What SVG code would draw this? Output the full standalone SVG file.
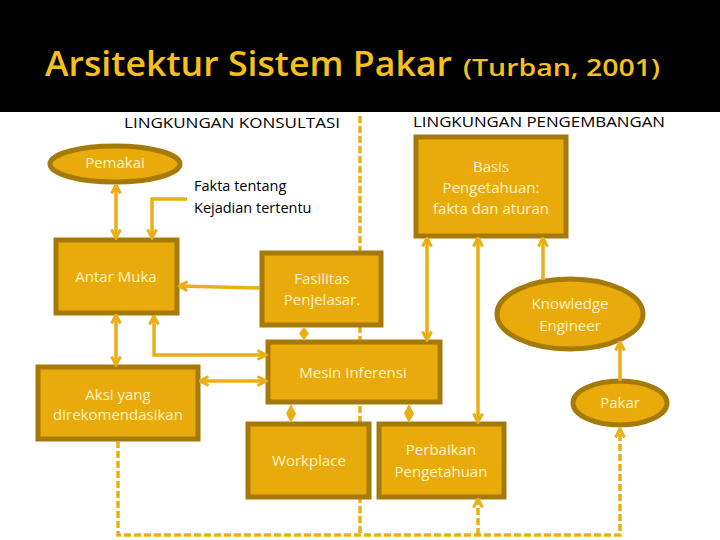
<svg xmlns="http://www.w3.org/2000/svg" width="720" height="540" viewBox="0 0 720 540">
<style>
.box{fill:#E9AB0B;stroke:#A57A0A;stroke-width:5}
.nt{font-family:"Open Sans","Noto Sans",sans-serif;font-size:15px;fill:#FFF3C4;text-anchor:middle}
.bt{font-family:"Open Sans","Noto Sans",sans-serif;font-size:14.5px;fill:#000}
.c{fill:none;stroke:#EBAE14;stroke-width:3.5}
.d{fill:none;stroke:#EBAE14;stroke-width:3.5;stroke-dasharray:7 3}
.dm{fill:#EBAE14}
</style>
<defs>
<marker id="arr" viewBox="0 0 12 12" refX="10.5" refY="6" markerWidth="12" markerHeight="12" markerUnits="userSpaceOnUse" orient="auto-start-reverse">
<path d="M2,1.5 L10.5,6 L2,10.5" fill="none" stroke="#EBAE14" stroke-width="3"/>
</marker>
</defs>
<rect width="720" height="540" fill="#fff"/>
<rect width="720" height="112" fill="#000"/>
<text x="45" y="76" font-family="'Open Sans','Noto Sans',sans-serif" font-size="35" font-weight="600" fill="#F5C01A" textLength="407" lengthAdjust="spacingAndGlyphs">Arsitektur Sistem Pakar</text>
<text x="463" y="76" font-family="'Open Sans','Noto Sans',sans-serif" font-size="24" font-weight="600" fill="#F5C01A" textLength="197" lengthAdjust="spacingAndGlyphs">(Turban, 2001)</text>
<text class="bt" x="124" y="128" textLength="216" lengthAdjust="spacingAndGlyphs">LINGKUNGAN KONSULTASI</text>
<text class="bt" x="413" y="127" textLength="252" lengthAdjust="spacingAndGlyphs">LINGKUNGAN PENGEMBANGAN</text>
<text class="bt" x="194" y="191">Fakta tentang</text>
<text class="bt" x="194" y="213">Kejadian tertentu</text>

<g id="boundary"><line class="d" x1="360" y1="116" x2="360" y2="535"/></g>

<g id="pemakai"><ellipse class="box" cx="115" cy="164" rx="65" ry="18"/><text class="nt" x="115" y="168">Pemakai</text></g>
<g id="antar-muka"><rect class="box" x="56" y="240" width="121" height="73"/><text class="nt" x="116" y="282">Antar Muka</text></g>
<g id="fasilitas"><rect class="box" x="262" y="253" width="119" height="72"/><text class="nt" x="322" y="284">Fasilitas</text><text class="nt" x="322" y="305">Penjelasar.</text></g>
<g id="mesin"><rect class="box" x="268" y="342" width="172" height="60"/><text class="nt" x="353" y="378">Mesin Inferensi</text></g>
<g id="aksi"><rect class="box" x="38" y="367" width="160" height="72"/><text class="nt" x="118" y="400">Aksi yang</text><text class="nt" x="118" y="420">direkomendasikan</text></g>
<g id="workplace"><rect class="box" x="248" y="424" width="121" height="73"/><text class="nt" x="309" y="466">Workplace</text></g>
<g id="perbaikan"><rect class="box" x="379" y="424" width="125" height="73"/><text class="nt" x="441" y="455">Perbaikan</text><text class="nt" x="441" y="477">Pengetahuan</text></g>
<g id="basis"><rect class="box" x="416" y="137" width="150" height="99"/><text class="nt" x="491" y="172">Basis</text><text class="nt" x="491" y="193">Pengetahuan:</text><text class="nt" x="491" y="214">fakta dan aturan</text></g>
<g id="knowledge-engineer"><ellipse class="box" cx="570" cy="314" rx="73" ry="35"/><text class="nt" x="570" y="309">Knowledge</text><text class="nt" x="570" y="331">Engineer</text></g>
<g id="pakar"><ellipse class="box" cx="620" cy="403" rx="47" ry="22"/><text class="nt" x="620" y="408">Pakar</text></g>

<g id="connectors">
<line class="c" x1="116" y1="185" x2="116" y2="238" marker-start="url(#arr)" marker-end="url(#arr)"/>
<path class="c" d="M187,199 H152 V238" marker-end="url(#arr)"/>
<line class="c" x1="260" y1="288" x2="179" y2="286" marker-end="url(#arr)"/>
<path class="c" d="M154,316 V355 H266" marker-start="url(#arr)" marker-end="url(#arr)"/>
<line class="c" x1="116" y1="315" x2="116" y2="365" marker-start="url(#arr)" marker-end="url(#arr)"/>
<line class="c" x1="200" y1="381" x2="266" y2="381" marker-start="url(#arr)" marker-end="url(#arr)"/>
<polygon class="dm" points="304,327 309,333.5 304,340 299,333.5"/>
<polygon class="dm" points="291,404 296,413.5 291,423 286,413.5"/>
<polygon class="dm" points="409,404 414,413.5 409,423 404,413.5"/>
<line class="c" x1="427" y1="238" x2="427" y2="340" marker-start="url(#arr)" marker-end="url(#arr)"/>
<line class="c" x1="478" y1="238" x2="478" y2="422" marker-start="url(#arr)" marker-end="url(#arr)"/>
<line class="c" x1="543" y1="280" x2="543" y2="238" marker-end="url(#arr)"/>
<line class="c" x1="620" y1="381" x2="620" y2="342" marker-end="url(#arr)"/>
<path class="d" d="M118,441 V535 H620 V429" marker-end="url(#arr)"/>
<path class="d" d="M478,535 V499" marker-end="url(#arr)"/>
</g>
</svg>
